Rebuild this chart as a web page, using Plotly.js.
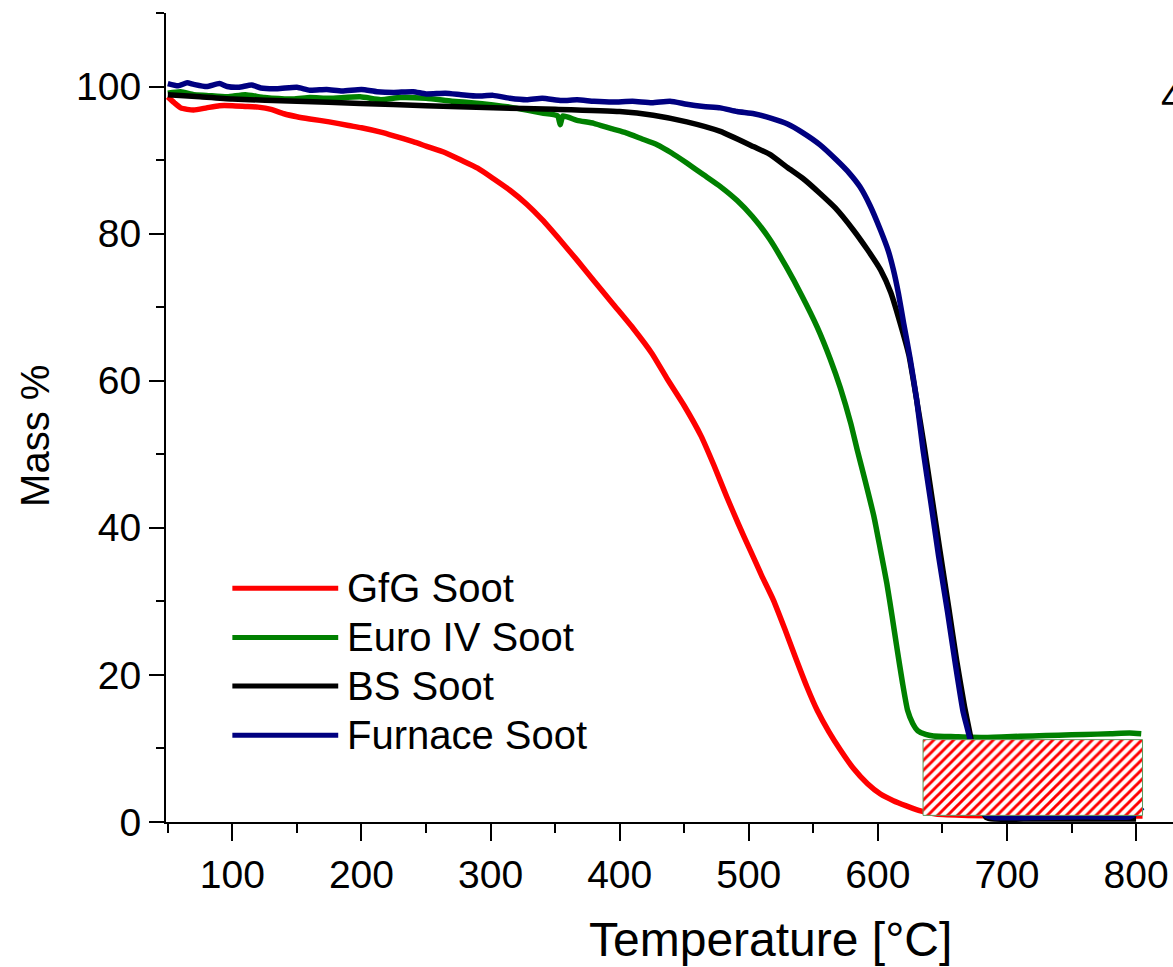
<!DOCTYPE html>
<html>
<head>
<meta charset="utf-8">
<script src="https://cdn.plot.ly/plotly-3.0.1.min.js"></script>
<style>
html, body { margin: 0; padding: 0; background: #fff; overflow: hidden; }
#chart { width: 1173px; height: 967px; }
</style>
</head>
<body>
<div id="chart"></div>
<script>
// ---- Data ----
const seriesNames = ["GfG Soot", "Euro IV Soot", "BS Soot", "Furnace Soot"];
const seriesColors = ["#ff0000", "#008000", "#000000", "#000080"];

const gfgT = [50,55,60,65,70,80,90,100,110,120,130,140,150,160,175,190,200,215,225,240,250,265,277,290,302,315,328,340,354,367,380,395,411,425,437,450,463,473,483,492,501,510,519,528,537,545,553,562,571,581,592,602,612,622,633,645,670,700,750,800,805];
const gfgM = [98.6,97.8,97.1,96.9,96.8,97.1,97.4,97.4,97.3,97.2,96.9,96.3,95.9,95.6,95.2,94.7,94.4,93.8,93.3,92.5,91.9,91.0,90.0,88.9,87.5,85.9,84.0,81.9,79.1,76.4,73.6,70.4,67.0,63.7,60.2,56.6,52.5,48.5,44.2,40.5,37.0,33.5,30.2,26.2,22.0,18.4,15.2,12.3,9.8,7.3,5.2,3.8,2.9,2.2,1.5,1.1,0.9,0.8,0.8,0.8,0.8];

const euroT = [50,60,70,80,96,110,125,147,160,175,199,215,230,250,270,285,302,315,328,340,352,354,356,367,380,393,405,417,429,440,452,465,478,491,503,516,529,541,553,563,571,579,584,590,597,602,607,611,615,619,623,627,631,637,643,660,680,700,720,740,760,780,795,804];
const euroM = [99.1,99.3,98.9,98.8,98.6,98.9,98.5,98.3,98.5,98.4,98.6,98.2,98.5,98.4,98.0,97.8,97.5,97.2,96.8,96.4,96.0,94.8,96.0,95.4,95.0,94.3,93.7,92.9,92.1,91.0,89.6,88.0,86.4,84.5,82.3,79.3,75.5,71.6,67.3,63.0,59.0,54.2,50.6,46.5,41.5,37.0,32.4,28.0,23.4,19.0,15.2,13.4,12.4,11.9,11.7,11.6,11.5,11.6,11.7,11.8,11.9,12.0,12.1,12.0];

const bsT = [50,75,100,150,199,250,302,350,400,426,452,478,504,516,530,542,555,567,581,592,602,610,617,624,629,636,642,648,655,661,667,672,676,680,684,690,720,760,800];
const bsM = [98.9,98.6,98.3,98.0,97.7,97.4,97.1,96.9,96.6,96.1,95.2,93.9,91.8,90.8,89.0,87.5,85.5,83.5,80.5,77.8,75.1,72.0,68.0,63.5,58.5,51.0,44.0,37.0,29.0,22.0,15.8,11.4,6.0,2.0,0.6,0.4,0.4,0.4,0.4];

const furnT = [50,58,65,70,80,90,96,105,115,122,135,150,160,173,185,200,212,225,240,250,265,277,290,302,315,328,340,355,367,380,395,410,425,439,452,465,478,491,504,517,530,542,555,568,578,586,594,602,608,612,616,620,625,630,635,641,647,654,660,666,671,675,679,683,690,720,760,795,800,805];
const furnM = [100.4,100.1,100.5,100.3,100.0,100.4,100.0,99.9,100.2,99.8,99.7,99.9,99.5,99.6,99.4,99.6,99.3,99.2,99.3,99.0,99.1,98.9,98.7,98.8,98.4,98.2,98.4,98.1,98.2,98.0,97.9,98.0,97.8,98.0,97.6,97.3,97.1,96.6,96.3,95.7,94.9,93.7,92.1,90.0,88.2,86.4,83.8,80.5,77.7,75.1,71.8,67.8,63.0,57.5,50.6,43.5,36.2,28.5,21.5,15.0,11.5,7.0,3.0,1.0,0.6,0.6,0.7,0.7,1.2,2.0];

// residue region (hatched box)
const boxT = [635, 805, 805, 635, 635];
const boxM = [0.9, 0.9, 11.2, 11.2, 0.9];

// axis ticks
const xTicks = [100,200,300,400,500,600,700,800];
const yTicks = [0,20,40,60,80,100];

const FONT = "'Liberation Sans', Arial, Helvetica, sans-serif";

const xs = [gfgT, euroT, bsT, furnT];
const ys = [gfgM, euroM, bsM, furnM];

const traces = seriesNames.map((n, i) => ({
  type: "scatter", mode: "lines", name: n,
  x: xs[i], y: ys[i],
  line: { color: seriesColors[i], width: 5.5, shape: "spline", smoothing: 0.5 },
  hoverinfo: "skip"
}));

traces.push({
  type: "scatter", mode: "lines", name: "residue",
  x: boxT, y: boxM,
  fill: "toself",
  fillcolor: "#ff0000",
  fillpattern: { shape: "/", fgcolor: "#ff0000", bgcolor: "#ffffff", size: 7, solidity: 0.42, fillmode: "replace" },
  line: { color: "#5c9a5c", width: 1 },
  showlegend: false, hoverinfo: "skip"
});

// custom legend (long line samples)
const legRows = [31.8, 25.1, 18.5, 11.8];
const shapes = [];
const annotations = [];
legRows.forEach((yy, i) => {
  shapes.push({ type: "line", xref: "x", yref: "y", x0: 100, x1: 182, y0: yy, y1: yy,
    line: { color: seriesColors[i], width: 5 } });
  annotations.push({ xref: "x", yref: "y", x: 187.5, y: yy, xanchor: "left", yanchor: "middle",
    text: seriesNames[i], showarrow: false, font: { family: FONT, size: 40, color: "#000" } });
});

annotations.push({ xref: "paper", yref: "y", x: 0, xshift: -131, y: 52.5, textangle: -90,
  xanchor: "center", yanchor: "middle", text: "Mass %", showarrow: false,
  font: { family: FONT, size: 40, color: "#000" } });
annotations.push({ xref: "x", yref: "paper", x: 517, y: 0, yshift: -117,
  xanchor: "center", yanchor: "middle", text: "Temperature [°C]", showarrow: false,
  font: { family: FONT, size: 48, color: "#000" } });
annotations.push({ xref: "x", yref: "y", x: 817.5, y: 98.6, xanchor: "left", yanchor: "middle",
  text: "4", showarrow: false, font: { family: FONT, size: 40, color: "#000" } });

const layout = {
  width: 1173, height: 967,
  margin: { l: 166, r: 0, t: 13, b: 145, pad: 0 },
  paper_bgcolor: "#fff", plot_bgcolor: "#fff",
  showlegend: false,
  font: { family: FONT, color: "#000" },
  xaxis: {
    range: [48.6, 828.6], showline: true, linecolor: "#000", linewidth: 2,
    ticks: "outside", ticklen: 17, tickwidth: 2, tickcolor: "#000",
    tickvals: xTicks, ticktext: xTicks.map(String),
    tickfont: { family: FONT, size: 39, color: "#000" },
    minor: { ticks: "outside", ticklen: 9, tickwidth: 2, tickcolor: "#000", dtick: 50, tick0: 0, showgrid: false },
    showgrid: false, zeroline: false
  },
  yaxis: {
    range: [0, 110], showline: true, linecolor: "#000", linewidth: 2,
    ticks: "outside", ticklen: 15, tickwidth: 2, tickcolor: "#000",
    tickvals: yTicks, ticktext: yTicks.map(String),
    tickfont: { family: FONT, size: 39, color: "#000" },
    minor: { ticks: "outside", ticklen: 8, tickwidth: 2, tickcolor: "#000", dtick: 10, tick0: 0, showgrid: false },
    showgrid: false, zeroline: false
  },
  shapes: shapes,
  annotations: annotations
};

Plotly.newPlot("chart", traces, layout, { staticPlot: true, displayModeBar: false });
</script>
</body>
</html>
